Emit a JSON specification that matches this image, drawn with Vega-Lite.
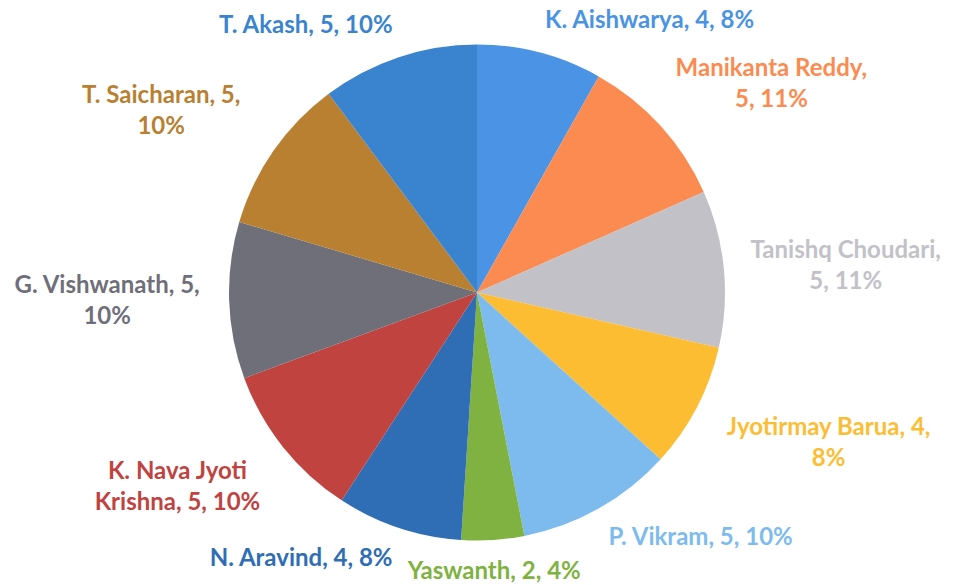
{
  "$schema": "https://vega.github.io/schema/vega-lite/v6.json",
  "width": 954,
  "height": 585,
  "autosize": {"type": "fit", "contains": "padding"},
  "background": "white",
  "config": {"view": {"stroke": null}},
  "data": {
    "values": [
      {"rank": 1, "name": "K. Aishwarya", "value": 4, "label": "K. Aishwarya, 4, 8%"},
      {"rank": 2, "name": "Manikanta Reddy", "value": 5, "label": "Manikanta Reddy,\n5, 11%"},
      {"rank": 3, "name": "Tanishq Choudari", "value": 5, "label": "Tanishq Choudari,\n5, 11%"},
      {"rank": 4, "name": "Jyotirmay Barua", "value": 4, "label": "Jyotirmay Barua, 4,\n8%"},
      {"rank": 5, "name": "P. Vikram", "value": 5, "label": "P. Vikram, 5, 10%"},
      {"rank": 6, "name": "Yaswanth", "value": 2, "label": "Yaswanth, 2, 4%"},
      {"rank": 7, "name": "N. Aravind", "value": 4, "label": "N. Aravind, 4, 8%"},
      {"rank": 8, "name": "K. Nava Jyoti Krishna", "value": 5, "label": "K. Nava Jyoti\nKrishna, 5, 10%"},
      {"rank": 9, "name": "G. Vishwanath", "value": 5, "label": "G. Vishwanath, 5,\n10%"},
      {"rank": 10, "name": "T. Saicharan", "value": 5, "label": "T. Saicharan, 5,\n10%"},
      {"rank": 11, "name": "T. Akash", "value": 5, "label": "T. Akash, 5, 10%"}
    ]
  },
  "encoding": {
    "theta": {"field": "value", "type": "quantitative", "stack": "normalize"},
    "order": {"field": "rank", "type": "quantitative"},
    "color": {
      "field": "name",
      "type": "nominal",
      "legend": null,
      "scale": {
        "domain": ["K. Aishwarya", "Manikanta Reddy", "Tanishq Choudari", "Jyotirmay Barua", "P. Vikram", "Yaswanth", "N. Aravind", "K. Nava Jyoti Krishna", "G. Vishwanath", "T. Saicharan", "T. Akash"],
        "range": ["#4b93e4", "#fb8b50", "#c2c1c8", "#fdbd33", "#7dbbef", "#7fb241", "#2f6db5", "#c0433f", "#6f6f79", "#b88030", "#3a84cf"]
      }
    }
  },
  "layer": [
    {"mark": {"type": "arc", "outerRadius": 248}},
    {
      "mark": {
        "type": "text",
        "radius": 268,
        "font": "Lato",
        "fontWeight": "bold",
        "fontSize": 24,
        "lineBreak": "\n",
        "lineHeight": 31,
        "align": {"expr": "indexof(datum.label,'\\n') >= 0 ? 'center' : ((datum.value_start+datum.value_end)/2 < 0.47 ? 'left' : ((datum.value_start+datum.value_end)/2 > 0.53 ? 'right' : 'center'))"},
        "baseline": {"expr": "((datum.value_start+datum.value_end)/2 < 0.2 || (datum.value_start+datum.value_end)/2 > 0.8) ? 'bottom' : (((datum.value_start+datum.value_end)/2 < 0.3 || (datum.value_start+datum.value_end)/2 > 0.7) ? 'middle' : 'top')"},
        "dx": {"expr": "indexof(datum.label,'\\n') >= 0 ? ((datum.value_start+datum.value_end)/2 < 0.47 ? 1 : ((datum.value_start+datum.value_end)/2 > 0.53 ? -1 : 0)) * 6 * max(indexof(datum.label,'\\n'), length(datum.label) - indexof(datum.label,'\\n') - 1) : 0"},
        "dy": {"expr": "indexof(datum.label,'\\n') >= 0 ? (((datum.value_start+datum.value_end)/2 < 0.2 || (datum.value_start+datum.value_end)/2 > 0.8) ? -31 : (((datum.value_start+datum.value_end)/2 < 0.3 || (datum.value_start+datum.value_end)/2 > 0.7) ? -15.5 : 0)) : 0"}
      },
      "encoding": {"text": {"field": "label"}}
    }
  ]
}
